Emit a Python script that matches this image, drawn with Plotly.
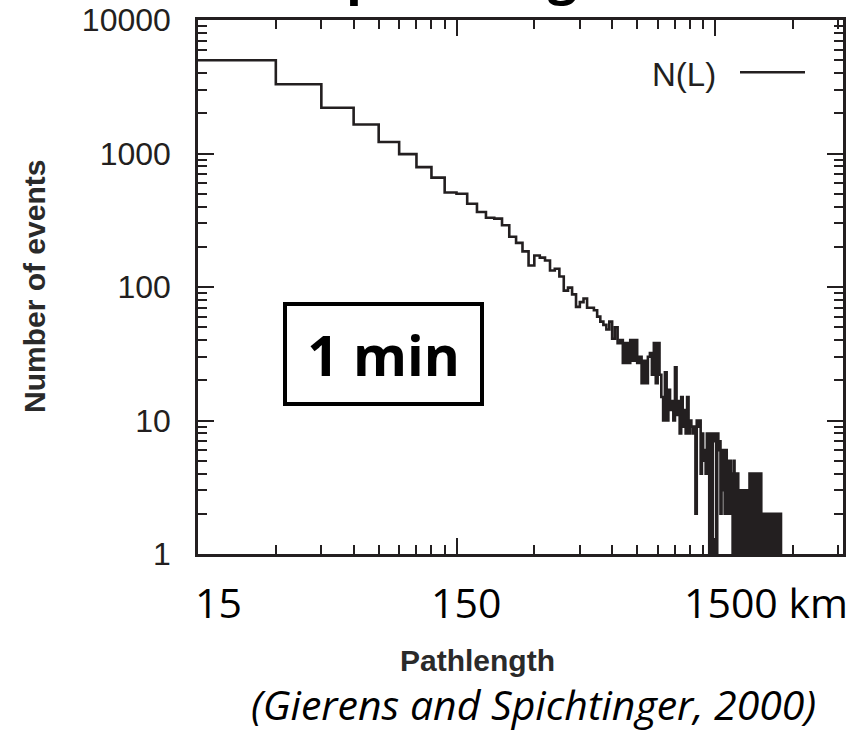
import numpy as np
import plotly.graph_objects as go

# ---------------- data ----------------
# histogram of ISSR pathlengths, bins of 15 km starting at 15 km
bin_width_km = 15
first_edge_km = 15
counts = [
    5000, 3300, 2200, 1650, 1220, 990, 790, 660, 510, 500,
    420, 365, 330, 325, 290, 238, 214, 185, 145, 172,
    166, 158, 133, 137, 120, 94, 99, 88, 71, 77,
    82, 70, 70, 67, 60, 55, 52, 48, 55, 41,
    50, 38, 40, 27, 38, 27, 40, 28, 40, 27,
    30, 19, 28, 19, 30, 32, 22, 38, 19, 38,
    22, 15, 10, 23, 10, 17, 12, 14, 10, 25,
    11, 14, 8, 15, 9, 12, 8, 15, 8, 10,
    9, 8, 9, 2, 10, 9, 10, 4, 8, 5,
    6, 4, 8, 5, 1, 8, 0, 8, 7, 8,
    0, 8, 6, 7, 2, 6, 3, 6, 2, 6,
    2, 5, 2, 5, 2, 4, 0, 5, 0, 4,
    1, 4, 0, 3, 0, 3, 1, 3, 0, 3,
    1, 3, 0, 3, 0, 4, 1, 4, 0, 4,
    1, 3, 0, 4, 1, 4, 0, 4, 2, 4,
    0, 2, 0, 2, 1, 2, 0, 2, 0, 2,
    1, 2, 2, 2, 0, 2, 1, 2, 0, 2,
    1, 2, 0, 2, 1, 2, 2, 2, 2,
]
x_tick_vals = [15, 150, 1500]
x_tick_text = ["15", "150", "1500 km"]
y_tick_vals = [1, 10, 100, 1000, 10000]
y_tick_text = ["1", "10", "100", "1000", "10000"]
series_name = "N(L)"
box_label = "1 min"
x_title = "Pathlength"
y_title = "Number of events"
citation = "(Gierens and Spichtinger, 2000)"

# ---------------- construction ----------------
n = len(counts)
edges = [first_edge_km + bin_width_km * i for i in range(n + 1)]
floor = 0.3  # empty bins drawn below the log axis (clipped)
y_plot = [c if c > 0 else floor for c in counts] + [floor]

INK = "#231f20"
W, H = 867, 732
L, R, T, B = 198, 24, 20, 178
pw, ph = W - L - R, H - T - B

x_minor = [k * v for v in [15, 150, 1500] for k in range(2, 10)]
y_minor = [k * 10 ** e for e in range(0, 4) for k in range(2, 10)]

fig = go.Figure()
fig.add_trace(go.Scatter(
    x=edges, y=y_plot, mode="lines", line_shape="hv",
    line=dict(color=INK, width=2.6), name=series_name, showlegend=False,
    hoverinfo="skip",
))

xr0 = np.log10(15)
xr1 = xr0 + pw / 258.5
fig.update_xaxes(
    type="log", range=[xr0, xr1], automargin=False,
    showline=True, linecolor=INK, linewidth=2.5, mirror="allticks",
    ticks="inside", ticklen=16, tickwidth=2, tickcolor=INK,
    tickmode="array", tickvals=x_tick_vals, showticklabels=False,
    showgrid=False, zeroline=False,
    minor=dict(tickmode="array", tickvals=x_minor, ticks="inside",
               ticklen=9, tickwidth=2, tickcolor=INK, showgrid=False),
)
fig.update_yaxes(
    type="log", range=[0, 4.0], automargin=False,
    showline=True, linecolor=INK, linewidth=2.5, mirror="allticks",
    ticks="inside", ticklen=16, tickwidth=2, tickcolor=INK,
    tickmode="array", tickvals=y_tick_vals, ticktext=y_tick_text,
    tickfont=dict(family="Liberation Sans", size=32, color=INK),
    ticklabelstandoff=18,
    showgrid=False, zeroline=False,
    minor=dict(tickmode="array", tickvals=y_minor, ticks="inside",
               ticklen=9, tickwidth=2, tickcolor=INK, showgrid=False),
)

ann = []
# custom x tick labels
for v, t, sh in zip(x_tick_vals, x_tick_text, [20, 9, 51]):
    ann.append(dict(x=np.log10(v), xref="x", y=0, yref="paper", text=t,
                    xanchor="center", yanchor="middle", xshift=sh, yshift=-48,
                    showarrow=False,
                    font=dict(family="Open Sans", size=41, color="black")))
# x title
ann.append(dict(x=(477.5 - L) / pw, xref="paper", y=0, yref="paper",
                text="<b>" + x_title + "</b>", xanchor="center", yanchor="middle",
                yshift=-106, showarrow=False,
                font=dict(family="Liberation Sans", size=30, color="#2a2a2a")))
# citation
ann.append(dict(x=(533.5 - L) / pw, xref="paper", y=0, yref="paper",
                text="<i>" + citation + "</i>", xanchor="center", yanchor="middle",
                yshift=-150, showarrow=False,
                font=dict(family="Open Sans", size=41, color="black")))
# y title
ann.append(dict(x=(34 - L) / pw, xref="paper", y=(554 - 287) / ph, yref="paper",
                text="<b>" + y_title + "</b>", textangle=-90,
                xanchor="center", yanchor="middle", showarrow=False,
                font=dict(family="Liberation Sans", size=30, color="#2a2a2a")))
# legend text
ann.append(dict(x=(718 - L) / pw, xref="paper", y=(554 - 74) / ph, yref="paper",
                text=series_name, xanchor="right", yanchor="middle", showarrow=False,
                font=dict(family="Liberation Sans", size=33, color=INK)))
# boxed label
ann.append(dict(x=(383.5 - L) / pw, xref="paper", y=(554 - 354) / ph, yref="paper",
                text="<b>" + box_label + "</b>", xanchor="center", yanchor="middle",
                showarrow=False, bordercolor="black", borderwidth=4, borderpad=2,
                width=189, height=92, bgcolor="white",
                font=dict(family="Open Sans", size=55, color="black")))
# cut-off slide title (only descenders visible, as in the reference)
ann.append(dict(x=(344 - L) / pw, xref="paper", y=1, yref="paper",
                text="<b>pathlength</b>", xanchor="left", yanchor="bottom",
                yshift=10, showarrow=False,
                font=dict(family="Open Sans", size=52, color="black")))

fig.update_layout(
    width=W, height=H,
    margin=dict(l=L, r=R, t=T, b=B),
    paper_bgcolor="white", plot_bgcolor="white",
    showlegend=False,
    annotations=ann,
    shapes=[dict(type="line", xref="paper", yref="paper",
                 x0=(740 - L) / pw, x1=(805 - L) / pw,
                 y0=(554 - 72.3) / ph, y1=(554 - 72.3) / ph,
                 line=dict(color=INK, width=2.4))],
)

fig.write_html("out.html")
